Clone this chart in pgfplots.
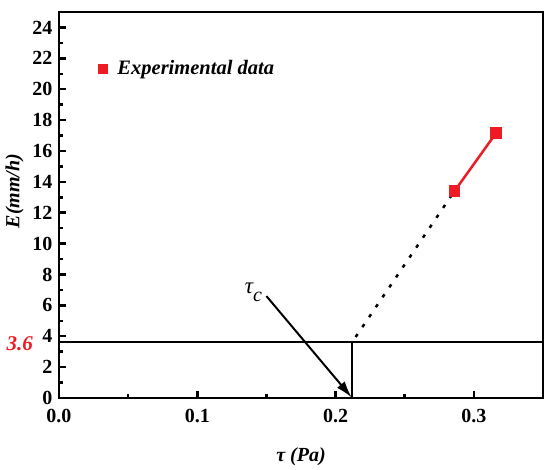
\documentclass[border=0pt]{standalone}
\usepackage{pgfplots}
\pgfplotsset{compat=1.18}
\usetikzlibrary{arrows.meta}
\usepackage{fontspec}
\setmainfont{Liberation Serif}
\definecolor{myred}{RGB}{237,28,36}
\begin{document}
\begin{tikzpicture}
\begin{axis}[
  scale only axis, width=484pt, height=386pt,
  at={(0,0)}, anchor=south west,
  xmin=0, xmax=0.35, ymin=0, ymax=25,
  xtick={0,0.1,0.2,0.3}, minor xtick={0.05,0.15,0.25},
  ytick={0,2,...,24}, minor ytick={1,3,...,23},
  xticklabels={0.0,0.1,0.2,0.3},
  yticklabels={0,2,4,6,8,10,12,14,16,18,20,22,24},
  axis line style={line width=2.8pt},
  tick style={line width=2.5pt, black},
  major tick length=7pt, minor tick length=4pt,
  tick align=inside,
  xtick pos=bottom, ytick pos=left,
  /pgf/number format/assume math mode=true,
  tick label style={font=\bfseries\fontsize{20}{20}\selectfont},
  xticklabel style={yshift=-8pt},
  yticklabel style={xshift=-3pt},
  xlabel={\bfseries\itshape τ (Pa)},
  ylabel={\bfseries\itshape E(mm/h)},
  label style={font=\fontsize{20}{20}\selectfont},
  xlabel style={yshift=-18pt},
  ylabel style={at={(ticklabel cs:0.536)}, yshift=2pt},
  legend style={at={(0.075,0.885)}, anchor=north west, draw=none, fill=none,
     font=\bfseries\itshape\fontsize{20.5}{20.5}\selectfont},
  legend cell align=left,
  clip=false,
]
\addlegendimage{only marks, mark=square*, mark size=4.5pt, myred}
\addlegendentry{\hspace{8pt}Experimental data}
% horizontal line at 3.6
\addplot[black, line width=2pt, forget plot] coordinates {(0,3.6) (0.35,3.6)};
% vertical line at tau_c
\addplot[black, line width=2pt, forget plot] coordinates {(0.212,0) (0.212,3.6)};
% dotted extrapolation
\addplot[black, line width=2.5pt, dash pattern=on 3.5pt off 8.5pt, forget plot] coordinates {(0.2145,3.95) (0.286,13.4)};
% experimental data
\addplot[myred, line width=2.5pt, mark=square*, mark size=4.5pt, forget plot] coordinates {(0.286,13.4) (0.316,17.15)};
% arrow
\draw[line width=2pt, -{Latex[length=17pt,width=10pt]}] (axis cs:0.150,6.6) -- (axis cs:0.2118,0.02);
\node[font=\fontsize{23}{23}\selectfont\itshape, anchor=south east, inner sep=0pt] at (axis cs:0.147,6.2) {τ\raisebox{-8pt}{\fontsize{20}{20}\selectfont c}};
\node[font=\bfseries\itshape\fontsize{21}{21}\selectfont, text=myred, anchor=east, inner sep=0pt] at (axis cs:0,3.6) [xshift=-26pt,yshift=-1pt] {3.6};
\end{axis}
\pgfresetboundingbox
\path (-59pt,-72pt) rectangle (491pt,398pt);
\end{tikzpicture}
\end{document}
